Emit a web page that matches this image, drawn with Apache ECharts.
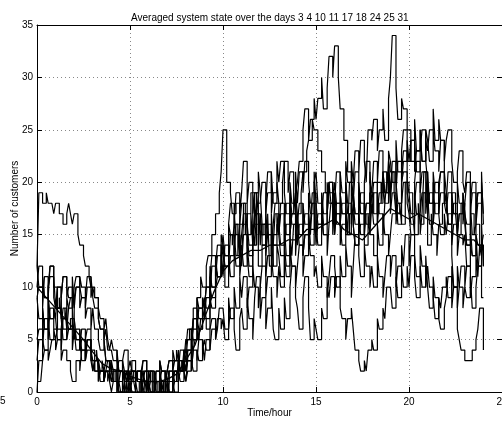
<!DOCTYPE html>
<html>
<head>
<meta charset="utf-8" />
<title>Averaged system state</title>
<script src="https://cdn.jsdelivr.net/npm/echarts@6/dist/echarts.min.js"></script>
<style>html,body{margin:0;padding:0;background:#fff;}</style>
</head>
<body>
<div id="main" style="width:502px;height:421px;"></div>
<script type="text/javascript">
// hours between two samples of a day curve
var step = 0.1;
var dayNames = ['3', '4', '10', '11', '17', '18', '24', '25', '31'];

// one row per hour (10 samples), last value is 24:00
var day3 = [
  12,19,19,18,18,19,18,18,18,17, 18,18,17,17,16,16,17,18,17,16,
  17,17,15,14,14,13,12,12,11,10, 10,9,9,7,6,6,5,3,3,2,
  2,1,1,2,0,0,1,2,2,1, 1,1,2,2,1,1,0,0,1,1,
  0,0,1,1,2,2,1,0,0,2, 2,1,1,3,3,4,3,3,2,3,
  5,5,6,6,8,8,9,9,11,10, 10,12,13,13,15,15,17,17,19,21,
  25,25,20,20,19,17,17,18,18,16, 16,18,18,15,15,17,14,14,19,17,
  15,15,16,16,17,12,12,14,17,17, 15,18,18,16,13,13,15,17,17,19,
  17,17,19,21,21,23,24,24,26,25, 25,23,23,21,21,19,19,20,18,18,
  18,16,16,19,17,17,15,15,17,17, 16,14,14,17,15,15,18,16,16,19,
  19,17,17,20,20,18,21,21,19,22, 21,21,19,17,17,18,16,16,20,20,
  19,19,17,15,15,18,16,16,19,19, 14,14,17,15,15,13,16,16,18,18,
  18,16,16,19,19,17,15,15,18,18, 16,14,14,17,17,15,16,16,13,14,
  15];
var day4 = [
  10,12,12,11,9,9,10,11,11,9, 8,8,9,7,7,8,6,6,7,7,
  7,5,5,6,4,4,5,6,6,4, 3,3,4,2,2,3,2,2,1,2,
  1,1,2,2,1,0,0,1,2,1, 2,2,1,0,0,1,1,2,1,0,
  2,2,1,1,0,0,1,2,2,0, 0,1,1,2,2,1,3,3,2,4,
  4,3,3,5,7,7,6,8,8,9, 8,10,10,9,12,12,11,13,13,14,
  13,12,12,15,15,14,16,16,13,16, 18,18,15,17,17,19,19,16,18,18,
  18,20,20,17,19,19,21,18,18,20, 18,18,20,22,22,19,21,21,17,19,
  20,22,22,25,27,27,24,26,26,28, 26,28,28,30,27,27,29,32,32,30,
  33,33,30,27,27,24,24,21,21,20, 19,17,17,15,16,16,14,14,17,15,
  15,13,13,16,14,14,17,15,15,13, 15,17,17,19,16,16,18,20,20,18,
  17,15,15,18,20,20,17,19,19,17, 19,16,16,18,20,20,17,15,15,17,
  15,17,17,14,16,16,13,15,15,14, 15,12,12,14,13,13,15,12,12,14,
  14];
var day10 = [
  5,6,6,4,7,7,5,8,8,6, 6,8,8,7,5,5,6,8,9,9,
  7,5,5,4,6,6,3,5,5,4, 2,3,3,1,2,2,1,2,3,3,
  2,1,1,0,1,2,2,1,0,0, 1,0,0,1,2,2,1,0,1,1,
  1,0,0,1,1,0,0,1,0,0, 1,0,0,1,2,2,1,2,2,3,
  2,3,3,2,4,5,5,6,6,7, 7,6,6,9,8,8,10,11,11,12,
  12,10,10,13,11,11,14,12,12,15, 12,15,15,13,11,11,14,16,16,12,
  12,14,14,11,13,13,15,12,12,14, 13,11,11,14,12,12,15,13,16,16,
  16,14,14,13,15,15,17,15,18,18, 15,17,17,19,16,16,18,20,20,18,
  20,18,18,21,19,19,22,20,20,22, 20,23,23,21,24,24,22,20,25,25,
  24,26,26,23,25,25,27,24,24,28, 30,34,34,29,26,26,28,27,27,25,
  25,22,22,24,21,21,23,25,25,22, 20,18,18,21,19,19,17,19,19,18,
  19,16,16,18,17,17,15,17,17,19, 17,16,16,18,15,15,17,19,19,16,
  16];
var day11 = [
  3,5,5,8,6,6,9,7,7,8, 7,10,10,8,6,6,9,8,8,11,
  8,10,10,11,10,10,9,11,11,9, 10,9,9,8,7,7,6,7,5,4,
  5,4,4,3,2,2,3,2,1,2, 3,2,2,1,2,2,1,3,3,2,
  2,1,1,2,1,1,3,2,2,1, 2,3,3,2,3,3,4,2,2,4,
  3,5,5,4,6,6,8,7,7,8, 7,9,9,12,10,10,13,11,11,14,
  11,14,14,12,15,15,13,16,16,13, 14,12,12,15,13,13,16,14,17,17,
  14,16,16,13,15,15,17,14,14,16, 15,13,13,16,18,18,15,17,17,19,
  14,16,16,13,15,15,17,14,14,18, 14,16,16,18,15,15,17,19,19,16,
  19,17,17,16,18,18,20,17,17,20, 18,21,21,19,17,17,20,22,22,20,
  19,22,22,20,23,23,21,19,19,23, 22,20,20,24,21,21,23,25,25,22,
  22,24,24,26,23,23,25,22,22,25, 24,22,22,25,23,23,21,24,24,21,
  19,16,16,13,10,10,6,5,4,4, 3,3,3,3,4,4,5,6,8,8,
  4];
var day17 = [
  9,10,10,8,11,11,9,12,12,10, 10,8,8,9,11,11,10,9,9,8,
  9,10,10,8,9,9,7,8,8,6, 8,6,6,5,4,4,5,3,3,2,
  3,2,2,3,2,2,1,2,2,1, 2,1,1,2,1,1,0,1,2,2,
  1,2,2,1,0,0,1,0,0,1, 1,2,2,1,0,0,2,1,1,2,
  1,2,2,3,2,2,4,3,3,5, 3,5,5,4,6,6,5,7,7,6,
  7,5,5,6,8,8,6,4,4,7, 8,6,6,9,7,7,5,9,11,11,
  7,9,9,6,8,8,10,6,5,5, 8,6,6,9,7,7,10,12,12,9,
  8,6,6,9,11,11,8,5,5,7, 6,5,5,8,7,7,10,9,11,11,
  9,11,11,8,7,7,5,7,7,8, 6,4,4,3,2,2,3,2,4,4,
  5,4,4,7,6,6,8,7,10,10, 10,8,8,11,9,9,12,10,10,12,
  10,13,13,11,9,9,12,10,10,13, 10,8,8,11,9,9,7,6,6,8,
  9,11,11,8,10,10,12,10,10,8, 10,9,9,11,8,8,10,12,12,9,
  9];
var day18 = [
  12,10,10,11,9,9,10,12,12,11, 8,10,10,9,11,11,9,10,10,8,
  10,11,11,10,9,9,8,10,10,11, 9,8,8,7,6,6,5,6,4,4,
  4,3,3,4,2,2,3,4,4,2, 2,3,3,2,1,1,2,3,3,1,
  1,2,2,1,2,2,3,2,2,1, 2,3,3,4,3,3,2,4,4,3,
  4,6,6,5,7,7,9,8,8,9, 8,10,10,11,13,13,12,14,14,15,
  14,13,13,16,15,15,17,15,15,13, 15,17,17,16,14,14,17,19,19,16,
  16,14,14,17,15,15,13,16,18,18, 16,14,14,17,15,15,18,16,16,13,
  16,18,18,15,17,17,14,16,19,19, 16,14,14,17,15,15,13,16,18,18,
  15,17,17,14,16,16,18,15,20,20, 16,14,14,17,19,19,16,18,18,15,
  18,16,16,19,17,17,15,18,20,20, 17,19,19,16,18,18,20,21,21,19,
  18,16,16,19,17,17,15,17,21,21, 17,19,19,16,18,18,20,21,21,19,
  18,21,21,19,17,17,20,18,18,16, 18,20,20,17,19,19,16,18,18,20,
  17];
var day24 = [
  1,1,1,3,4,4,3,4,5,5, 4,5,5,3,4,4,3,3,2,1,
  1,3,3,2,4,4,3,4,4,3, 2,3,3,1,2,2,1,2,2,1,
  0,1,1,0,1,1,0,0,1,0, 1,0,0,1,0,0,1,2,2,1,
  0,1,1,0,1,1,0,0,1,1, 0,1,1,0,1,1,2,2,3,2,
  1,3,3,2,4,4,3,5,5,4, 5,4,4,6,7,7,5,6,8,8,
  8,6,6,9,7,7,10,8,8,11, 9,11,11,8,10,10,12,10,10,8,
  10,12,12,9,11,11,13,11,11,9, 12,10,10,13,11,11,14,12,12,10,
  12,14,14,11,13,13,15,13,13,11, 12,10,10,13,11,11,9,11,13,13,
  12,10,10,13,11,11,14,12,12,9, 12,15,15,13,11,11,14,12,12,10,
  12,10,10,13,11,11,9,11,13,13, 11,13,13,10,12,12,14,12,15,15,
  12,15,15,13,11,11,14,12,12,10, 12,10,10,9,7,7,9,8,10,10,
  11,9,9,12,10,10,8,10,12,12, 10,12,12,9,11,11,13,11,14,14,
  12];
var day25 = [
  0,3,3,5,4,4,7,5,5,6, 5,6,6,4,7,7,5,6,6,4,
  6,4,4,5,3,3,4,5,5,3, 3,2,2,3,1,1,2,3,3,2,
  1,2,2,1,0,0,1,0,0,1, 0,1,1,2,1,1,0,1,1,0,
  1,0,0,0,1,1,0,1,1,0, 1,0,0,2,1,1,3,2,2,3,
  2,4,4,3,5,5,6,5,7,7, 8,7,7,10,9,9,12,11,11,13,
  14,12,12,11,13,13,15,13,13,11, 13,16,16,14,12,12,15,17,17,14,
  17,15,15,14,16,16,13,15,15,17, 15,17,17,14,16,16,19,17,17,15,
  17,15,15,18,16,16,19,17,17,20, 21,18,18,16,19,19,17,20,20,18,
  15,18,18,16,14,14,17,15,15,18, 19,17,17,20,18,18,16,18,18,21,
  18,20,20,17,19,19,21,19,19,22, 19,22,22,20,18,18,21,23,23,20,
  19,17,17,20,22,22,19,21,21,18, 21,18,18,20,17,17,19,21,21,18,
  17,19,19,16,18,18,15,17,17,19, 17,14,14,16,13,13,15,14,14,16,
  12];
var day31 = [
  9,7,7,8,6,6,9,7,7,8, 7,5,5,6,8,8,7,6,6,8,
  5,6,6,4,5,5,3,5,5,4, 4,2,2,3,2,2,1,2,2,3,
  2,1,1,2,3,3,2,1,1,2, 1,2,2,1,2,2,1,0,0,1,
  1,1,1,0,1,1,2,1,1,2, 1,2,2,1,2,2,3,2,2,3,
  2,4,4,6,5,5,7,6,6,8, 9,8,8,11,10,10,12,11,11,13,
  15,13,13,16,18,18,16,19,19,17, 19,22,22,18,20,20,17,19,19,21,
  19,16,16,18,21,21,17,19,19,22, 20,22,22,19,17,17,20,18,18,21,
  18,21,21,19,22,22,20,18,18,21, 18,16,16,19,17,17,20,18,18,15,
  18,21,21,19,17,17,20,18,18,16, 18,16,16,19,17,17,15,17,17,19,
  17,19,19,16,18,18,20,18,18,21, 18,21,21,19,22,22,20,22,22,24,
  22,24,24,21,23,23,25,22,22,24, 23,25,25,27,24,24,26,24,24,22,
  24,25,25,22,20,20,21,23,23,20, 19,21,21,18,20,20,17,19,19,21,
  16];

// averaged curve, every half hour
var avgStep = 0.5;
var average = [
  10,9,8,7,6,5,3.8,2.7,
  2.2,2,1.5,1.2,1,1,1.2,1.7,
  3,4.5,7,9.5,11.5,12.5,13,13.5,
  13.5,14,14,14.5,14.5,15.5,15.5,16,
  16.5,15.5,15,14.5,15.5,16.5,17.5,17,
  16.5,17,16.5,16,15.5,15,14.5,14.5,
  13.5];

var days = [day3, day4, day10, day11, day17, day18, day24, day25, day31];

function toPoints(values, dt) {
  var pts = [];
  for (var i = 0; i < values.length; i++) {
    pts.push([Math.round(i * dt * 100) / 100, values[i]]);
  }
  return pts;
}

var font = 'Liberation Sans';
var series = days.map(function (d, k) {
  return {
    name: 'day ' + dayNames[k],
    type: 'line',
    step: 'end',
    symbol: 'none',
    silent: true,
    data: toPoints(d, step),
    lineStyle: { color: '#000', width: 1.2 }
  };
});
series.push({
  name: 'average',
  type: 'line',
  symbol: 'none',
  silent: true,
  data: toPoints(average, avgStep),
  lineStyle: { color: '#000', width: 1.3 }
});

var myChart = echarts.init(document.getElementById('main'));
var option = {
  animation: false,
  backgroundColor: '#fff',
  title: {
    text: 'Averaged system state over the days ' + dayNames.join(' '),
    left: 126,
    top: 8,
    textStyle: { fontSize: 10, fontWeight: 'normal', fontFamily: font, color: '#000' }
  },
  grid: { left: 37, right: 0, top: 25, bottom: 29, outerBoundsMode: 'none', containLabel: false },
  xAxis: [{
    type: 'value', min: 0, max: 25, interval: 5,
    name: 'Time/hour', nameLocation: 'middle', nameGap: 16, nameMoveOverlap: false,
    nameTextStyle: { fontSize: 10, fontFamily: font, color: '#000' },
    axisLine: { onZero: false, lineStyle: { color: '#000', width: 1 } },
    axisTick: { inside: true, length: 5, lineStyle: { color: '#000' } },
    axisLabel: { margin: 5, fontSize: 10, fontFamily: font, color: '#000', hideOverlap: false },
    splitLine: { show: true, lineStyle: { type: [1, 3], color: '#888' } }
  }, {
    type: 'value', min: 0, max: 25, interval: 5, position: 'top',
    axisLine: { onZero: false, lineStyle: { color: '#000', width: 1 } },
    axisTick: { inside: true, length: 5, lineStyle: { color: '#000' } },
    axisLabel: { show: false },
    splitLine: { show: false }
  }],
  yAxis: [{
    type: 'value', min: 0, max: 35, interval: 5,
    name: 'Number of customers', nameLocation: 'middle', nameGap: 17, nameMoveOverlap: false,
    nameTextStyle: { fontSize: 10, fontFamily: font, color: '#000' },
    axisLine: { show: true, onZero: false, lineStyle: { color: '#000', width: 1 } },
    axisTick: { show: true, inside: true, length: 5, lineStyle: { color: '#000' } },
    axisLabel: { margin: 4, fontSize: 10, fontFamily: font, color: '#000' },
    splitLine: { show: true, lineStyle: { type: [1, 3], color: '#888' } }
  }, {
    type: 'value', min: 0, max: 35, interval: 5, position: 'right',
    axisLine: { show: true, onZero: false, lineStyle: { color: '#000', width: 1 } },
    axisTick: { show: true, inside: true, length: 5, lineStyle: { color: '#000' } },
    axisLabel: { show: false },
    splitLine: { show: false }
  }],
  graphic: [{
    type: 'text', left: 0, top: 396,
    style: { text: '5', font: '10px ' + font, fill: '#000' }
  }],
  series: series
};
myChart.setOption(option);
</script>
</body>
</html>
